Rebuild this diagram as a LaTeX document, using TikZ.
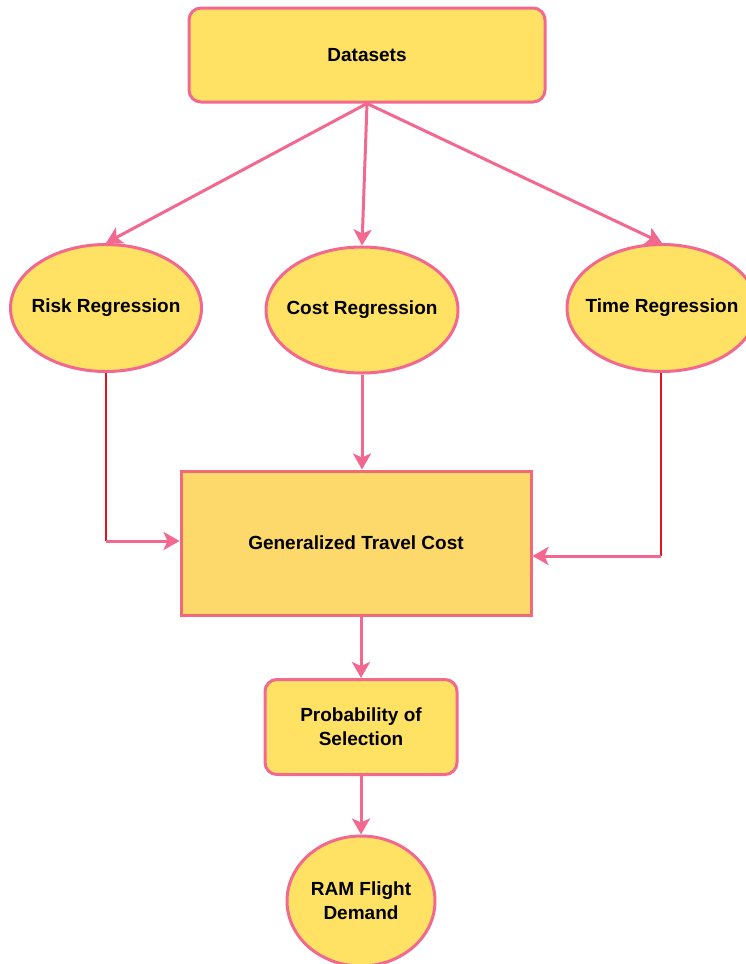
\documentclass[tikz,border=0pt]{standalone}
\usepackage{fontspec}
\setmainfont{Liberation Sans}
\usetikzlibrary{shapes.geometric,arrows.meta}
\definecolor{fillY}{HTML}{FFE263}
\definecolor{fillO}{HTML}{FDD86A}
\definecolor{pinkL}{HTML}{F2688F}
\definecolor{pinkR}{HTML}{F26A78}
\definecolor{redL}{HTML}{E3141F}
\tikzset{
  lbl/.style={font=\fontsize{19}{24}\selectfont\bfseries, align=center, text=black},
  rbox/.style={lbl, draw=pinkL, line width=3pt, fill=fillY, rounded corners=12pt, inner sep=0pt},
  ell/.style={lbl, ellipse, draw=pinkL, line width=3pt, fill=fillY, inner sep=0pt},
  gbox/.style={lbl, draw=pinkR, line width=3pt, fill=fillO, inner sep=0pt},
  conn/.style={draw=pinkL, line width=3pt, -{Stealth[length=16pt,width=18pt,inset=4pt]}},
  redline/.style={draw=redL, line width=2.5pt},
}
\begin{document}
\begin{tikzpicture}[x=1pt,y=-1pt]
\useasboundingbox (0,0) rectangle (746,964);
\clip (0,0) rectangle (746,964);
\node[rbox, minimum width=356pt, minimum height=94pt] (data) at (367,55) {Datasets};
\node[ell, minimum width=191pt, minimum height=127pt] (risk) at (106,308) {\makebox[0pt]{Risk Regression}};
\node[ell, minimum width=192pt, minimum height=126pt] (cost) at (362,310) {\makebox[0pt]{Cost Regression}};
\node[ell, minimum width=190pt, minimum height=127pt] (time) at (662,308) {\makebox[0pt]{Time Regression}};
\node[gbox, minimum width=350pt, minimum height=144pt] (gen) at (356,543) {Generalized Travel Cost};
\node[rbox, minimum width=192pt, minimum height=95pt] (prob) at (361,727) {Probability of\\Selection};
\node[ell, minimum width=148pt, minimum height=130pt] (ram) at (361,901) {RAM Flight\\Demand};
\coordinate (rc) at (106,541);
\coordinate (tc) at (661,556);
\draw[conn] (data.south) -- (risk.north);
\draw[conn] (data.south) -- (cost.north);
\draw[conn] (data.south) -- (time.north);
\draw[conn] (cost.south) -- (cost.south |- gen.north);
\draw[redline] (risk.south) -- (rc);
\draw[conn] (rc) -- (gen.west |- rc);
\draw[redline] (time.south -| tc) -- (tc);
\draw[conn] (tc) -- (gen.east |- tc);
\draw[conn] (prob.north |- gen.south) -- (prob.north);
\draw[conn] (prob.south) -- (ram.north);
\end{tikzpicture}
\end{document}
